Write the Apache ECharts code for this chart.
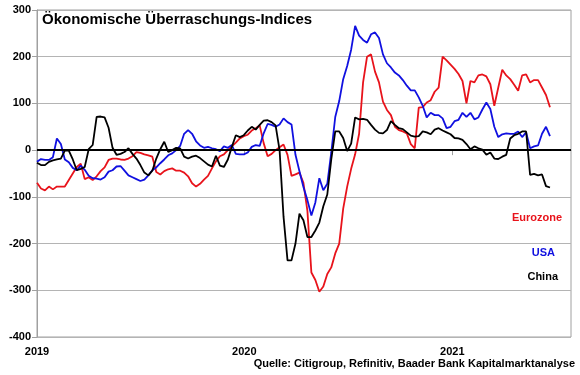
<!DOCTYPE html>
<html>
<head>
<meta charset="utf-8">
<script src="https://cdn.jsdelivr.net/npm/echarts@6/dist/echarts.min.js"></script>
<style>
html,body{margin:0;padding:0;background:#fff;}
#c{width:580px;height:375px;}
</style>
</head>
<body>
<div id="c"></div>
<script>
var dates = [
'2019-01-01','2019-01-08','2019-01-15','2019-01-22','2019-01-29','2019-02-05','2019-02-12','2019-02-19','2019-02-26',
'2019-03-05','2019-03-12','2019-03-19','2019-03-26','2019-04-02','2019-04-09','2019-04-16','2019-04-23','2019-04-30',
'2019-05-07','2019-05-14','2019-05-21','2019-05-28','2019-06-04','2019-06-11','2019-06-18','2019-06-25',
'2019-07-02','2019-07-09','2019-07-16','2019-07-23','2019-07-30','2019-08-06','2019-08-13','2019-08-20','2019-08-27',
'2019-09-03','2019-09-10','2019-09-17','2019-09-24','2019-10-01','2019-10-08','2019-10-15','2019-10-22','2019-10-29',
'2019-11-05','2019-11-12','2019-11-19','2019-11-26','2019-12-03','2019-12-10','2019-12-17','2019-12-24','2019-12-31',
'2020-01-07','2020-01-14','2020-01-21','2020-01-28','2020-02-04','2020-02-11','2020-02-18','2020-02-25',
'2020-03-03','2020-03-10','2020-03-17','2020-03-24','2020-03-31','2020-04-07','2020-04-14','2020-04-21','2020-04-28',
'2020-05-05','2020-05-12','2020-05-19','2020-05-26','2020-06-02','2020-06-09','2020-06-16','2020-06-23','2020-06-30',
'2020-07-07','2020-07-14','2020-07-21','2020-07-28','2020-08-04','2020-08-11','2020-08-18','2020-08-25',
'2020-09-01','2020-09-08','2020-09-15','2020-09-22','2020-09-29','2020-10-06','2020-10-13','2020-10-20','2020-10-27',
'2020-11-03','2020-11-10','2020-11-17','2020-11-24','2020-12-01','2020-12-08','2020-12-15','2020-12-22','2020-12-29',
'2021-01-05','2021-01-12','2021-01-19','2021-01-26','2021-02-02','2021-02-09','2021-02-16','2021-02-23',
'2021-03-02','2021-03-09','2021-03-16','2021-03-23','2021-03-30','2021-04-06','2021-04-13','2021-04-20','2021-04-27',
'2021-05-04','2021-05-11','2021-05-18','2021-05-25','2021-06-01','2021-06-08','2021-06-15','2021-06-22'
];

var eurozone = [
-70,-82,-86,-78,-84,-78,-78,-78,-64,-50,-36,-29,-62,-58,-64,-56,-45,-37,-21,-18,
-18,-20,-21,-18,-13,-4,-6,-9,-11,-14,-47,-52,-45,-41,-39,-44,-44,-48,-56,-71,
-78,-72,-63,-55,-39,-24,-13,-9,0,8,16,25,30,33,42,47,53,15,-13,-8,
0,6,12,-10,-55,-52,-48,-70,-130,-262,-278,-303,-292,-265,-251,-221,-200,-125,-78,-40,
-9,35,145,200,205,168,145,104,86,75,50,43,40,36,13,4,91,92,102,107,
125,134,200,192,183,174,163,148,100,148,145,160,162,158,141,95,134,172,160,152,
140,127,160,162,145,150,150,134,118,92
];

var usa = [
-25,-19,-21,-21,-15,25,13,-20,-26,-38,-43,-33,-42,-55,-60,-61,-63,-58,-46,-43,
-35,-34,-44,-54,-58,-62,-66,-63,-54,-43,-37,-28,-20,-11,-7,0,9,35,43,35,
19,10,5,7,4,2,-2,8,5,11,-8,-9,-9,-5,7,11,9,36,56,54,
50,55,68,60,55,-10,-45,-79,-107,-140,-112,-60,-86,-72,-5,71,105,152,180,215,
266,245,236,230,248,252,240,205,186,177,166,160,150,138,128,128,113,95,70,80,
75,75,68,47,50,62,65,80,71,80,66,70,87,102,88,50,28,34,36,35,
35,40,28,38,4,8,10,35,50,30
];

var china = [
-27,-32,-32,-25,-22,-20,-18,-1,-1,-20,-43,-40,-36,2,11,71,72,70,48,5,
-10,-8,-4,4,-8,-18,-32,-48,-54,-44,-18,2,18,-4,0,5,4,-14,-18,-14,
-12,-17,-24,-31,-35,-12,-33,-36,-20,7,32,28,32,42,50,44,54,63,64,60,
53,0,-143,-236,-236,-200,-136,-150,-186,-186,-172,-155,-120,-95,-20,40,40,26,-2,14,
70,66,67,65,54,44,37,36,43,62,54,47,45,38,31,29,30,40,38,34,
44,47,42,38,34,26,25,22,13,2,8,4,1,-10,-5,-18,-19,-14,-10,25,
32,35,40,40,-53,-51,-54,-52,-77,-80
];

var yearTicks = ['2019-01-01','2020-01-01','2021-01-01'];
var xRange = ['2019-01-01','2021-07-29'];

function ts(s){ var p = s.split('-'); return new Date(+p[0], +p[1]-1, +p[2]).getTime(); }
function pair(vals){ return vals.map(function(v,i){ return [ts(dates[i]), v]; }); }

var FONT = "'Liberation Sans', Arial, sans-serif";
var chart = echarts.init(document.getElementById('c'));
chart.setOption({
  animation: false,
  backgroundColor: '#fff',
  grid: { left: 37, right: 9, top: 10, bottom: 38, show: true, borderColor: '#a0a0a0', borderWidth: 1 },
  xAxis: {
    type: 'value',
    min: ts(xRange[0]), max: ts(xRange[1]),
    axisLine: { lineStyle: { color: '#a0a0a0', width: 1 } },
    axisTick: { show: true, length: 5, customValues: yearTicks.map(ts), lineStyle: { color: '#a0a0a0' } },
    axisLabel: {
      customValues: yearTicks.map(ts),
      formatter: function(v){ return String(new Date(v).getFullYear()); },
      color: '#000', fontFamily: FONT, fontWeight: 'bold', fontSize: 11, margin: 9
    },
    splitLine: { show: false }
  },
  yAxis: {
    type: 'value', min: -400, max: 300, interval: 100,
    axisLine: { show: true, lineStyle: { color: '#a0a0a0', width: 1 } },
    axisTick: { show: true, length: 5, lineStyle: { color: '#a0a0a0' } },
    axisLabel: { color: '#000', fontFamily: FONT, fontWeight: 'bold', fontSize: 11, margin: 6 },
    splitLine: { show: true, lineStyle: { color: '#b4b4b4', width: 1 } }
  },
  series: [
    { name: 'Eurozone', type: 'line', data: pair(eurozone), showSymbol: false, symbol: 'none',
      lineStyle: { color: '#e8131b', width: 1.8 }, z: 2,
      markLine: { silent: true, symbol: 'none', label: { show: false },
        lineStyle: { color: '#000', width: 2, type: 'solid' }, data: [{ yAxis: 0 }] } },
    { name: 'USA', type: 'line', data: pair(usa), showSymbol: false, symbol: 'none',
      lineStyle: { color: '#1010e0', width: 1.8 }, z: 3 },
    { name: 'China', type: 'line', data: pair(china), showSymbol: false, symbol: 'none',
      lineStyle: { color: '#000', width: 1.8 }, z: 4 }
  ],
  graphic: [
    { type: 'text', left: 42, top: 12, style: { text: 'Ökonomische Überraschungs-Indices', fill: '#000',
      font: "bold 15px 'Liberation Sans', Arial, sans-serif" } },
    { type: 'text', right: 18, top: 212, style: { text: 'Eurozone', fill: '#e8131b',
      font: "bold 11px 'Liberation Sans', Arial, sans-serif" } },
    { type: 'text', right: 25, top: 247, style: { text: 'USA', fill: '#1010e0',
      font: "bold 11px 'Liberation Sans', Arial, sans-serif" } },
    { type: 'text', right: 22, top: 271, style: { text: 'China', fill: '#000',
      font: "bold 11px 'Liberation Sans', Arial, sans-serif" } },
    { type: 'text', right: 5, top: 358, style: { text: 'Quelle: Citigroup, Refinitiv, Baader Bank Kapitalmarktanalyse', fill: '#000',
      font: "bold 11px 'Liberation Sans', Arial, sans-serif" } }
  ]
});
</script>
</body>
</html>
